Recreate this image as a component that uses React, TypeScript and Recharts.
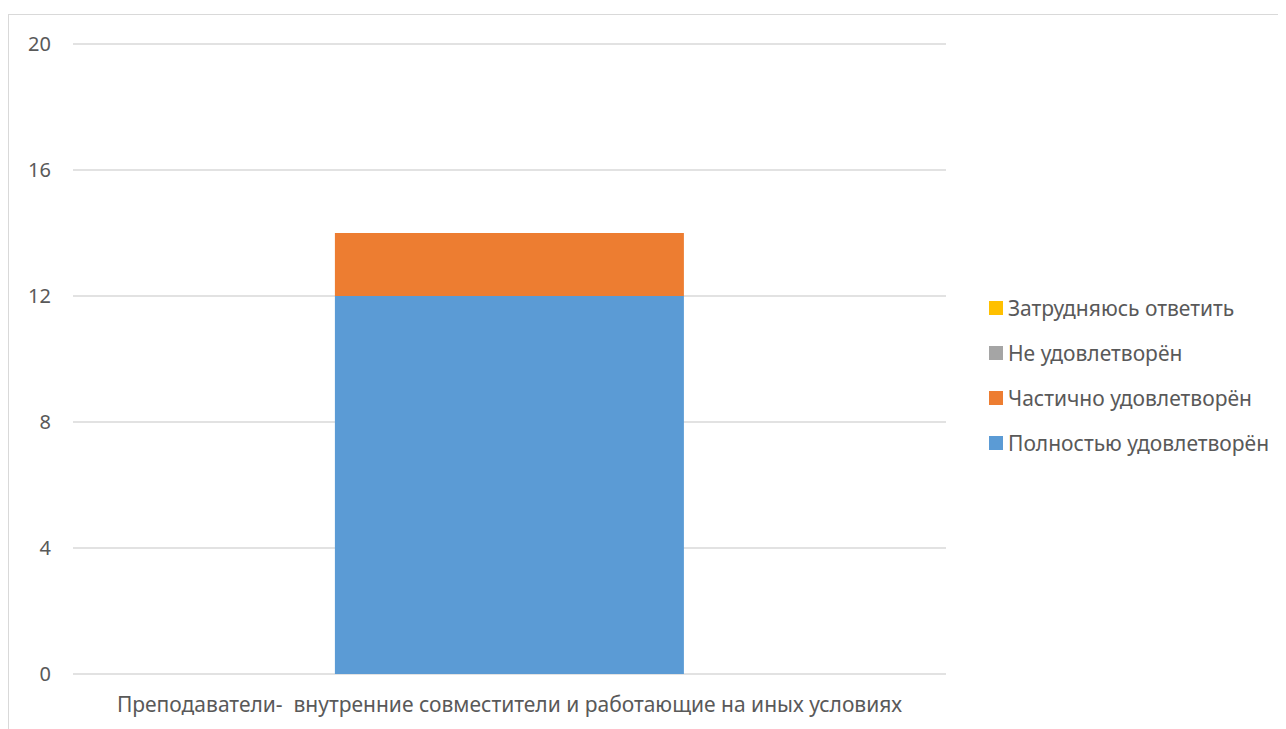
import { BarChart, Bar, CartesianGrid, XAxis, YAxis, Legend } from 'recharts';

const categories = ['Преподаватели-\u00A0 внутренние совместители и работающие на иных условиях'];
const fullySatisfied = [12];
const partlySatisfied = [2];
const notSatisfied = [0];
const hardToSay = [0];
const yTicks = [0, 4, 8, 12, 16, 20];

const series = [
  { key: 'full', name: 'Полностью удовлетворён', color: '#5b9bd5' },
  { key: 'partly', name: 'Частично удовлетворён', color: '#ed7d31' },
  { key: 'not', name: 'Не удовлетворён', color: '#a5a5a5' },
  { key: 'hard', name: 'Затрудняюсь ответить', color: '#ffc000' },
];

const data = categories.map((c, i) => ({
  category: c,
  full: fullySatisfied[i],
  partly: partlySatisfied[i],
  not: notSatisfied[i],
  hard: hardToSay[i],
}));

const FONT = '"Noto Sans", sans-serif';
const TEXT = '#595959';

function SideLegend() {
  return (
    <div style={{ fontFamily: FONT, fontSize: 21, color: TEXT }}>
      {[...series].reverse().map((s) => (
        <div key={s.key} style={{ display: 'flex', alignItems: 'center', height: 45 }}>
          <span style={{ width: 14, height: 14, background: s.color, marginRight: 5, display: 'inline-block' }} />
          <span>{s.name}</span>
        </div>
      ))}
    </div>
  );
}

export default function App() {
  return (
    <div style={{ marginTop: 6, width: 1278, height: 715, border: '1px solid #d9d9d9', borderBottom: 'none', boxSizing: 'border-box', overflow: 'hidden' }}>
      <BarChart width={1278} height={730} data={data} margin={{ top: 29, right: 41, bottom: 31, left: 0 }} barCategoryGap="30%">
        <CartesianGrid vertical={false} stroke="#d9d9d9" strokeWidth={1.5} />
        <XAxis
          dataKey="category"
          axisLine={false}
          tickLine={false}
          height={40}
          tick={{ fontFamily: FONT, fontSize: 21, fill: TEXT }}
          tickMargin={17}
        />
        <YAxis
          domain={[0, 20]}
          ticks={yTicks}
          axisLine={false}
          tickLine={false}
          width={64}
          tick={{ fontFamily: FONT, fontSize: 20, fill: TEXT }}
          tickMargin={16}
        />
        <Legend
          layout="vertical"
          verticalAlign="top"
          align="right"
          wrapperStyle={{ top: 270, left: 980, width: 300 }}
          content={() => <SideLegend />}
        />
        {series.map((s) => (
          <Bar key={s.key} dataKey={s.key} name={s.name} stackId="a" fill={s.color} isAnimationActive={false} />
        ))}
      </BarChart>
    </div>
  );
}
